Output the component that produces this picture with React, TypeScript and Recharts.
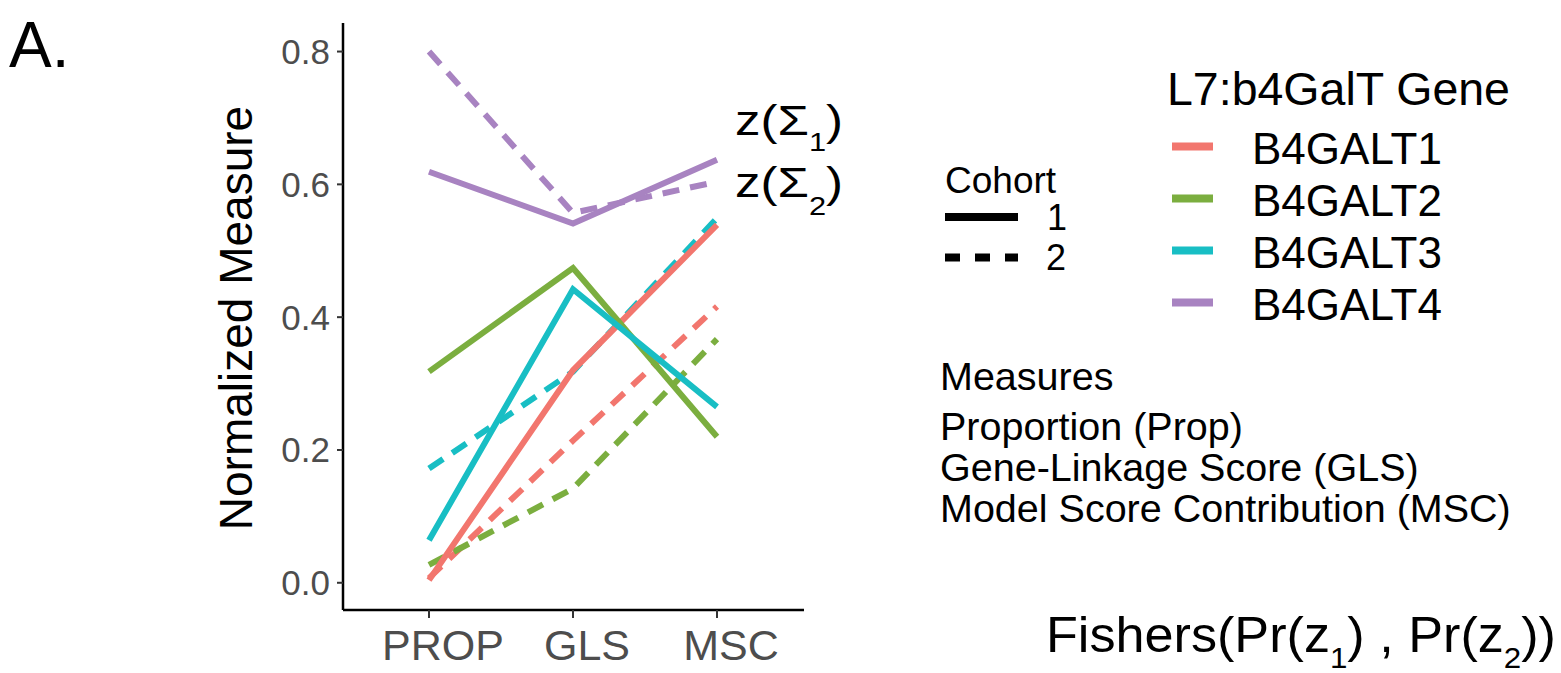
import React from "react";
import { LineChart, Line, XAxis, YAxis } from "recharts";

// measures on the x axis
const measures = ["PROP", "GLS", "MSC"];

// normalized measure per gene, cohort 1 (solid) and cohort 2 (dashed)
const b4galt1Cohort1 = [0.004, 0.32, 0.539];
const b4galt1Cohort2 = [0.007, 0.214, 0.416];
const b4galt2Cohort1 = [0.318, 0.474, 0.22];
const b4galt2Cohort2 = [0.027, 0.142, 0.367];
const b4galt3Cohort1 = [0.064, 0.442, 0.265];
const b4galt3Cohort2 = [0.172, 0.318, 0.549];
const b4galt4Cohort1 = [0.619, 0.541, 0.637];
const b4galt4Cohort2 = [0.8, 0.557, 0.604];

const genes = ["B4GALT1", "B4GALT2", "B4GALT3", "B4GALT4"];
const geneColors = ["#F2766E", "#7BAE3F", "#18BEC4", "#A883C1"];
const yTicks = [0, 0.2, 0.4, 0.6, 0.8];
const measureNotes = [
  "Proportion (Prop)",
  "Gene-Linkage Score (GLS)",
  "Model Score Contribution (MSC)",
];

const seriesValues = [
  [b4galt1Cohort1, b4galt1Cohort2],
  [b4galt2Cohort1, b4galt2Cohort2],
  [b4galt3Cohort1, b4galt3Cohort2],
  [b4galt4Cohort1, b4galt4Cohort2],
];

const chartData = measures.map((m, i) => {
  const row: Record<string, string | number> = { measure: m };
  seriesValues.forEach((pair, g) => {
    row[`g${g}c1`] = pair[0][i];
    row[`g${g}c2`] = pair[1][i];
  });
  return row;
});

const FONT = "'Liberation Sans', Arial, Helvetica, sans-serif";

// x tick labels sit a little right of their ticks in the original
function MeasureTick(props: any) {
  const { x, y, payload } = props;
  return (
    <text x={x + 14} y={y + 30} textAnchor="middle" fontSize={43} fill="#4D4D4D" fontFamily={FONT}>
      {payload.value}
    </text>
  );
}

export default function App() {
  return (
    <div style={{ position: "absolute", left: 0, top: 0, width: 1561, height: 673, background: "#fff", fontFamily: FONT, overflow: "hidden" }}>
      <LineChart
        width={830}
        height={673}
        data={chartData}
        margin={{ top: 23, right: 26, bottom: 0, left: 263 }}
      >
        <XAxis
          dataKey="measure"
          height={63}
          padding={{ left: 86, right: 87 }}
          axisLine={{ stroke: "#000", strokeWidth: 2.5 }}
          tickLine={{ stroke: "#333", strokeWidth: 2 }}
          tickSize={8}
          tickMargin={12}
          tick={<MeasureTick />}
        />
        <YAxis
          width={80}
          domain={[-0.041, 0.843]}
          ticks={yTicks}
          allowDataOverflow
          tickFormatter={(v: number) => v.toFixed(1)}
          axisLine={{ stroke: "#000", strokeWidth: 2.5 }}
          tickLine={{ stroke: "#333", strokeWidth: 2 }}
          tickSize={6}
          tickMargin={7}
          tick={{ fill: "#4D4D4D", fontSize: 35, fontFamily: FONT }}
        />
        {genes.map((gene, g) => (
          <Line
            key={`${gene}-2`}
            dataKey={`g${g}c2`}
            name={`${gene} cohort 2`}
            stroke={geneColors[g]}
            strokeWidth={6}
            strokeDasharray="17 11"
            dot={false}
            activeDot={false}
            type="linear"
            isAnimationActive={false}
          />
        ))}
        {genes.map((gene, g) => (
          <Line
            key={`${gene}-1`}
            dataKey={`g${g}c1`}
            name={`${gene} cohort 1`}
            stroke={geneColors[g]}
            strokeWidth={6}
            dot={false}
            activeDot={false}
            type="linear"
            isAnimationActive={false}
          />
        ))}
      </LineChart>

      <svg
        width={1561}
        height={673}
        style={{ position: "absolute", left: 0, top: 0, pointerEvents: "none" }}
        fontFamily={FONT}
      >
        <text x={9} y={67} fontSize={64} fill="#000">A.</text>

        <text transform="translate(252,318) rotate(-90)" textAnchor="middle" fontSize={46} fill="#000">
          Normalized Measure
        </text>

        {/* labels at the right end of the purple lines */}
        <text x={735} y={135} fontSize={43} fill="#000" textLength={108} lengthAdjust="spacingAndGlyphs">
          z(Σ<tspan fontSize={26} dy={16}>1</tspan><tspan dy={-16}>)</tspan>
        </text>
        <text x={735} y={197} fontSize={43} fill="#000" textLength={108} lengthAdjust="spacingAndGlyphs">
          z(Σ<tspan fontSize={26} dy={18}>2</tspan><tspan dy={-18}>)</tspan>
        </text>

        {/* cohort legend */}
        <text x={945} y={193} fontSize={37} fill="#000">Cohort</text>
        <line x1={945} x2={1018} y1={217} y2={217} stroke="#000" strokeWidth={8} />
        <text x={1047} y={230} fontSize={36} fill="#000">1</text>
        <line x1={945} x2={1018} y1={257.5} y2={257.5} stroke="#000" strokeWidth={8} strokeDasharray="15 15" />
        <text x={1046} y={270} fontSize={36} fill="#000">2</text>

        {/* gene legend */}
        <text x={1167} y={105} fontSize={46.5} fill="#000">L7:b4GalT Gene</text>
        {genes.map((gene, g) => (
          <g key={gene}>
            <line x1={1172} x2={1213} y1={146.5 + g * 52} y2={146.5 + g * 52} stroke={geneColors[g]} strokeWidth={8} />
            <text x={1252} y={163.5 + g * 52.2} fontSize={44} fill="#000">{gene}</text>
          </g>
        ))}

        {/* measures note */}
        <text x={940} y={390} fontSize={39.5} fill="#000">Measures</text>
        {measureNotes.map((note, i) => (
          <text key={note} x={940} y={440 + i * 41} fontSize={39.5} fill="#000">{note}</text>
        ))}

        <text x={1046} y={652} fontSize={50} fill="#000" textLength={510} lengthAdjust="spacingAndGlyphs">
          Fishers(Pr(z<tspan fontSize={30} dy={16}>1</tspan><tspan dy={-16}>) , Pr(z</tspan><tspan fontSize={30} dy={16}>2</tspan><tspan dy={-16}>))</tspan>
        </text>
      </svg>
    </div>
  );
}
